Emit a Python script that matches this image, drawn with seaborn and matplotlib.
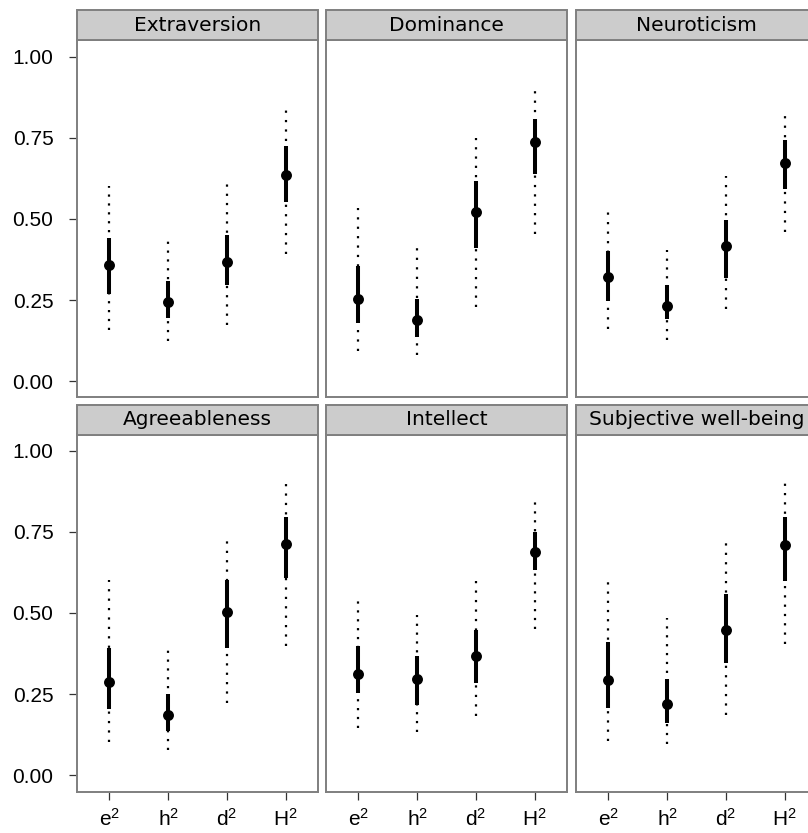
import matplotlib
matplotlib.use("Agg")
import matplotlib.pyplot as plt
from matplotlib.patches import Rectangle
import numpy as np
import pandas as pd
import seaborn as sns

# Variance components per trait: point estimate, inner (thick) and outer (dotted) intervals
traits = ["Extraversion", "Dominance", "Neuroticism",
          "Agreeableness", "Intellect", "Subjective well-being"]
components = ["e2", "h2", "d2", "H2"]
component_labels = [r"$\mathregular{e^{2}}$", r"$\mathregular{h^{2}}$",
                    r"$\mathregular{d^{2}}$", r"$\mathregular{H^{2}}$"]

estimate = [
    [0.357, 0.245, 0.369, 0.636],
    [0.255, 0.188, 0.523, 0.737],
    [0.321, 0.232, 0.416, 0.672],
    [0.288, 0.187, 0.503, 0.713],
    [0.313, 0.297, 0.366, 0.688],
    [0.293, 0.220, 0.449, 0.708],
]
inner_lo = [
    [0.268, 0.196, 0.298, 0.551],
    [0.181, 0.135, 0.411, 0.638],
    [0.247, 0.191, 0.319, 0.593],
    [0.204, 0.136, 0.392, 0.608],
    [0.254, 0.218, 0.285, 0.634],
    [0.208, 0.161, 0.346, 0.598],
]
inner_hi = [
    [0.440, 0.308, 0.452, 0.724],
    [0.354, 0.252, 0.617, 0.809],
    [0.400, 0.296, 0.498, 0.743],
    [0.392, 0.249, 0.603, 0.796],
    [0.397, 0.369, 0.449, 0.750],
    [0.410, 0.297, 0.559, 0.796],
]
outer_lo = [
    [0.157, 0.125, 0.174, 0.393],
    [0.094, 0.081, 0.229, 0.453],
    [0.162, 0.128, 0.222, 0.460],
    [0.103, 0.079, 0.223, 0.399],
    [0.146, 0.134, 0.182, 0.452],
    [0.105, 0.095, 0.187, 0.406],
]
outer_hi = [
    [0.602, 0.431, 0.607, 0.835],
    [0.535, 0.410, 0.750, 0.893],
    [0.521, 0.406, 0.633, 0.817],
    [0.603, 0.385, 0.721, 0.898],
    [0.536, 0.495, 0.598, 0.842],
    [0.594, 0.485, 0.716, 0.900],
]
y_ticks = [0.00, 0.25, 0.50, 0.75, 1.00]
y_tick_labels = ["0.00", "0.25", "0.50", "0.75", "1.00"]

rows = []
for t, trait in enumerate(traits):
    for c, comp in enumerate(components):
        rows.append(dict(trait=trait, component=comp, pos=c,
                         estimate=estimate[t][c],
                         inner_lo=inner_lo[t][c], inner_hi=inner_hi[t][c],
                         outer_lo=outer_lo[t][c], outer_hi=outer_hi[t][c]))
df = pd.DataFrame(rows)

sns.set_style("white")
plt.rcParams["font.family"] = ["Liberation Sans", "DejaVu Sans"]

# panel geometry in pixels (dpi 100)
W, H = 808.0, 833.0
lefts = [77, 326, 576]
panel_w = 241
row_tops = [40.5, 434.5]
panel_h = 357
strip_h = 30
y_lim = (-0.05, 1.05)
pt_per_unit = panel_h / (y_lim[1] - y_lim[0]) * 72.0 / 100.0

DOT_LW = 1.6
DOT_PERIOD = 6.6  # points between dot starts


def dotted_style(lo, hi):
    """Dash pattern that puts a dot exactly at both ends of the segment."""
    length = (hi - lo) * pt_per_unit
    n = max(1, int(round((length - DOT_LW) / DOT_PERIOD)))
    period = (length - DOT_LW) / n
    return (0, (1, period / DOT_LW - 1))


g = sns.FacetGrid(df, col="trait", col_wrap=3, col_order=traits,
                  sharex=True, sharey=True, height=3.5, aspect=0.68)


def draw_intervals(data, **kws):
    ax = plt.gca()
    for _, row in data.iterrows():
        ax.vlines(row["pos"], row["outer_lo"], row["outer_hi"], color="black",
                  linewidth=DOT_LW,
                  linestyles=[dotted_style(row["outer_lo"], row["outer_hi"])],
                  capstyle="butt", zorder=2)
    ax.vlines(data["pos"], data["inner_lo"], data["inner_hi"], color="black",
              linewidth=2.9, zorder=3)
    sns.scatterplot(data=data, x="pos", y="estimate", ax=ax, color="black",
                    s=62, edgecolor="black", linewidth=0, zorder=4)


g.map_dataframe(draw_intervals)

fig = g.figure
fig.set_size_inches(W / 100, H / 100)

for i, ax in enumerate(g.axes.flat):
    r, c = divmod(i, 3)
    ax.set_position([lefts[c] / W, 1 - (row_tops[r] + panel_h) / H,
                     panel_w / W, panel_h / H])
    ax.set_xlim(-0.55, 3.55)
    ax.set_ylim(*y_lim)
    ax.set_title("")
    ax.set_xlabel("")
    ax.set_ylabel("")
    for sp in ax.spines.values():
        sp.set_visible(True)
        sp.set_color("#7f7f7f")
        sp.set_linewidth(1.4)
    ax.set_xticks(range(len(components)))
    ax.set_yticks(y_ticks)
    ax.tick_params(axis="both", length=6, width=0.9, color="#333333",
                   labelsize=15, labelcolor="black", direction="out")
    ax.tick_params(axis="y", pad=11)
    ax.tick_params(axis="x", pad=6)
    if c == 0:
        ax.set_yticklabels(y_tick_labels)
        ax.tick_params(axis="y", left=True, labelleft=True)
    else:
        ax.tick_params(axis="y", left=False, labelleft=False)
    if r == 1:
        ax.set_xticklabels(component_labels)
        ax.tick_params(axis="x", bottom=True, labelbottom=True)
    else:
        ax.tick_params(axis="x", bottom=False, labelbottom=False)

    # facet strip
    sh = strip_h / panel_h
    ax.add_patch(Rectangle((0, 1), 1, sh, transform=ax.transAxes,
                           facecolor="#cccccc", edgecolor="#7f7f7f",
                           linewidth=1.4, clip_on=False, zorder=5))
    ax.text(0.5, 1 + sh / 2, traits[i], transform=ax.transAxes,
            ha="center", va="center", fontsize=14.5, color="black",
            family="DejaVu Sans", zorder=6)

fig.savefig("out.png", dpi=100)
